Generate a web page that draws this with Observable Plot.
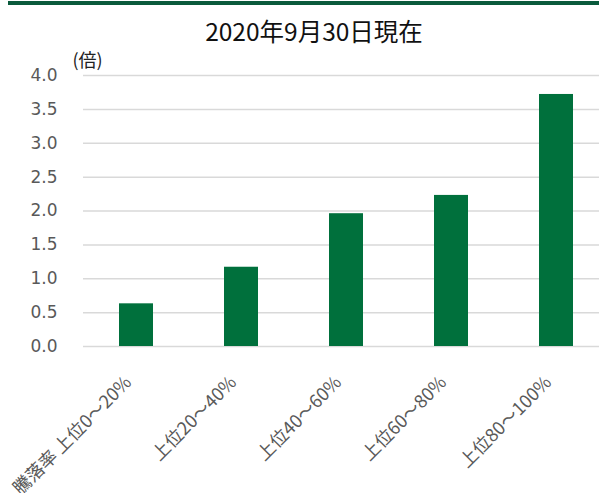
<!DOCTYPE html>
<html>
<head>
<meta charset="utf-8">
<script src="https://cdn.jsdelivr.net/npm/d3@7"></script>
<script src="https://cdn.jsdelivr.net/npm/@observablehq/plot@0.6"></script>
<style>
  html, body { margin: 0; padding: 0; background: #fff; overflow: hidden; }
  #wrap { position: relative; width: 599px; height: 493px; }
  #topline { position: absolute; left: 8px; top: 1px; width: 591px; height: 4px; background: #0a5a3c; }
  #title { position: absolute; left: 29px; top: 19px; width: 570px; text-align: center;
           font-family: "Noto Sans CJK JP", sans-serif; font-size: 24.5px; line-height: 24px; color: #111; }
  #header { height: 45px; }
  #chart svg { display: block; }
</style>
</head>
<body>
<div id="wrap">
  <div id="header"><div id="topline"></div><div id="title">2020年9月30日現在</div></div>
  <div id="chart"></div>
</div>
<script>
const categories = ["騰落率 上位0～20%", "上位20～40%", "上位40～60%", "上位60～80%", "上位80～100%"];
const values = [0.63, 1.17, 1.96, 2.23, 3.72];
const yTicks = [0, 0.5, 1, 1.5, 2, 2.5, 3, 3.5, 4];
const unitLabel = "(倍)";

const data = categories.map((c, i) => ({cat: c, val: values[i]}));

const chart = Plot.plot({
  width: 599,
  height: 448,
  marginLeft: 83,
  marginRight: 0,
  marginTop: 30,
  marginBottom: 147,
  style: {fontFamily: "DejaVu Sans, sans-serif", fontSize: "17px", color: "#595959", background: "#fff"},
  x: {domain: categories, range: [47.3, 644], padding: 0.677, axis: null},
  y: {domain: [0, 4], axis: null},
  marks: [
    Plot.gridY(yTicks, {stroke: "#d9d9d9", strokeOpacity: 1, strokeWidth: 1.5}),
    Plot.barY(data, {x: "cat", y: "val", fill: "#00703c"}),
    Plot.axisY(yTicks, {tickSize: 0, tickPadding: 26, tickFormat: d => d.toFixed(1), label: null,
      fill: "#595959", fontSize: 17, fontFamily: "DejaVu Sans"}),
    Plot.text(categories, {x: d => d, frameAnchor: "bottom", rotate: -45, textAnchor: "end",
      lineAnchor: "middle", dx: -8, dy: 33, fill: "#595959", fontSize: 18,
      fontFamily: "Noto Sans CJK JP"}),
    Plot.text([unitLabel], {frameAnchor: "top-left", textAnchor: "start", lineAnchor: "middle",
      dx: -11, dy: -14.5, fill: "#222", fontSize: 18, fontFamily: "Noto Sans CJK JP"})
  ]
});
document.getElementById("chart").appendChild(chart);
</script>
</body>
</html>
